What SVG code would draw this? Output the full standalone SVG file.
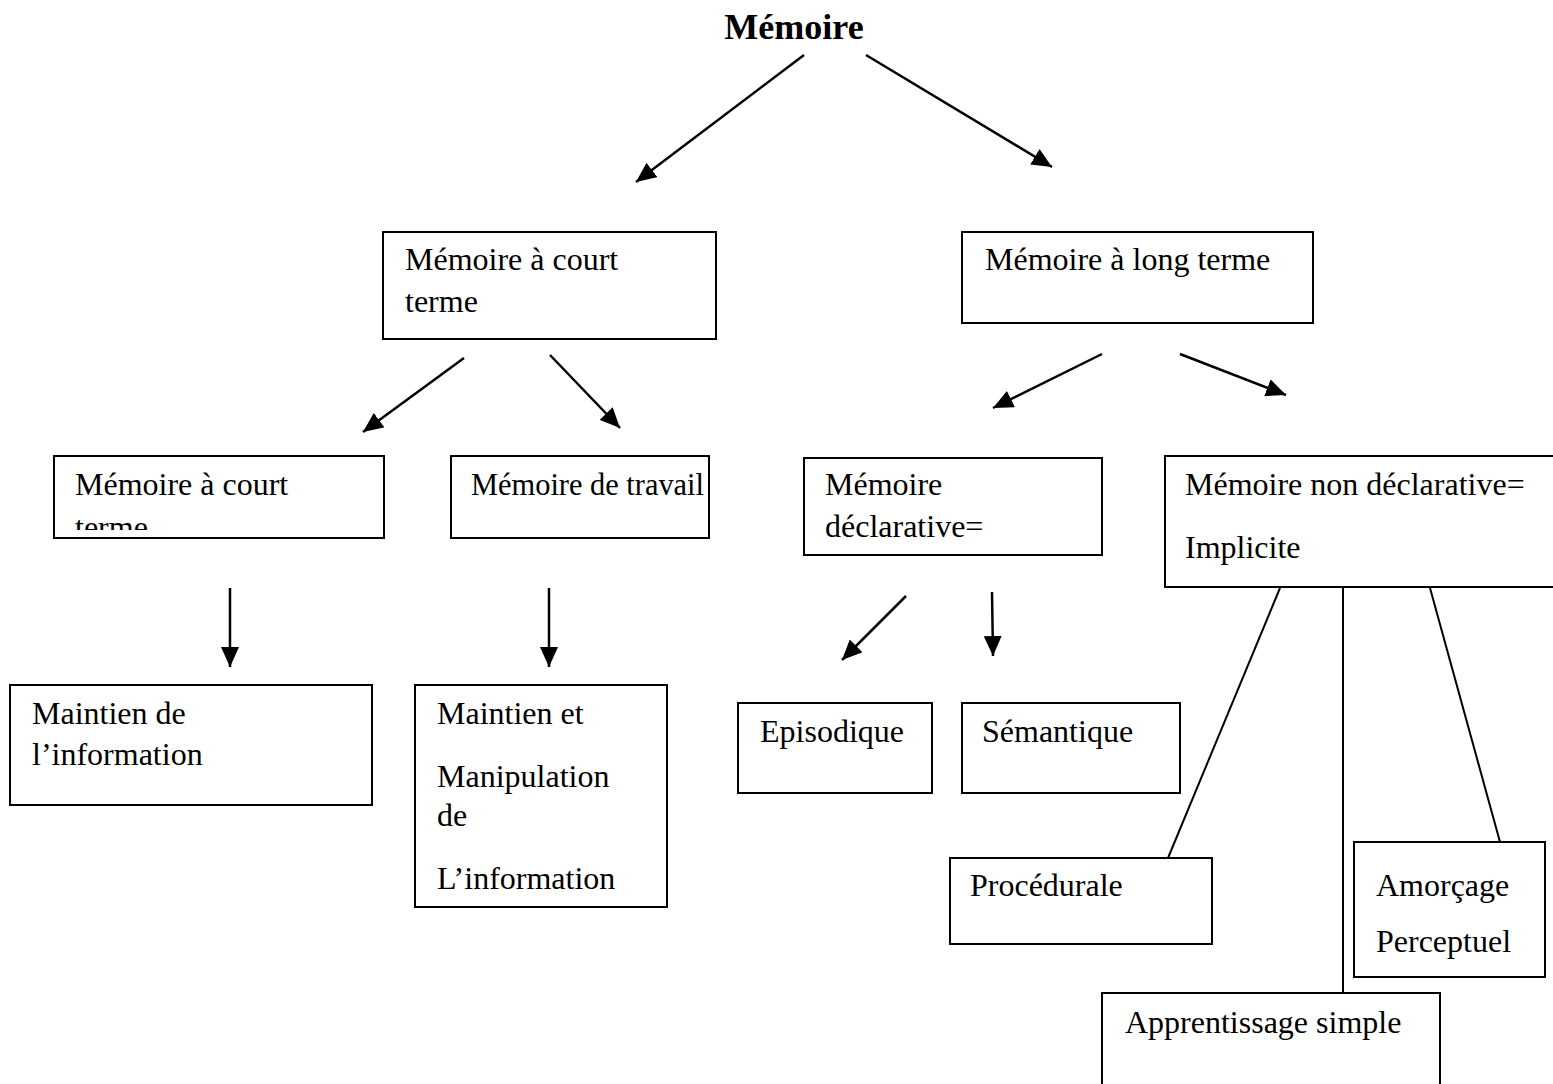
<svg xmlns="http://www.w3.org/2000/svg" width="1553" height="1084" viewBox="0 0 1553 1084">
<style>
.box{fill:#fff;stroke:#000;stroke-width:2}
.t{font-family:"Liberation Serif","Times New Roman",serif;font-size:32px;fill:#000}
.title{font-family:"Liberation Serif","Times New Roman",serif;font-size:36px;font-weight:bold;fill:#000}
.arr{stroke:#000;stroke-width:2.5;fill:none;marker-end:url(#ah)}
.ln{stroke:#000;stroke-width:2;fill:none}
</style>
<defs>
<marker id="ah" markerUnits="userSpaceOnUse" markerWidth="22" markerHeight="18" refX="20" refY="9" orient="auto">
<path d="M0,0 L20,9 L0,18 Z" fill="#000"/>
</marker>
<clipPath id="c3"><rect x="55" y="457" width="328" height="73"/></clipPath>
</defs>
<rect width="1553" height="1084" fill="#fff"/>
<g id="title"><text class="title" x="794" y="39" text-anchor="middle">Mémoire</text></g>
<g id="connectors">
<line class="arr" x1="804" y1="55" x2="636" y2="182"/>
<line class="arr" x1="866" y1="55" x2="1052" y2="167"/>
<line class="arr" x1="464" y1="358" x2="363" y2="432"/>
<line class="arr" x1="550" y1="355" x2="620" y2="428"/>
<line class="arr" x1="1102" y1="354" x2="993" y2="408"/>
<line class="arr" x1="1180" y1="354" x2="1286" y2="395"/>
<line class="arr" x1="230" y1="588" x2="230" y2="667"/>
<line class="arr" x1="549" y1="588" x2="549" y2="667"/>
<line class="arr" x1="906" y1="596" x2="842" y2="660"/>
<line class="arr" x1="992" y1="592" x2="993" y2="656"/>
<line class="ln" x1="1280" y1="588" x2="1168" y2="858"/>
<line class="ln" x1="1343" y1="588" x2="1343" y2="993"/>
<line class="ln" x1="1430" y1="588" x2="1500" y2="842"/>
</g>
<g id="n-mct">
<rect class="box" x="383" y="232" width="333" height="107"/>
<text class="t" x="405" y="270">Mémoire à court</text>
<text class="t" x="405" y="312">terme</text>
</g>
<g id="n-mlt">
<rect class="box" x="962" y="232" width="351" height="91"/>
<text class="t" x="985" y="270">Mémoire à long terme</text>
</g>
<g id="n-mct2">
<rect class="box" x="54" y="456" width="330" height="82"/>
<g clip-path="url(#c3)">
<text class="t" x="75" y="495">Mémoire à court</text>
<text class="t" x="75" y="538">terme</text>
</g>
</g>
<g id="n-mtravail">
<rect class="box" x="451" y="456" width="258" height="82"/>
<text class="t" x="471" y="495" textLength="233" lengthAdjust="spacingAndGlyphs">Mémoire de travail</text>
</g>
<g id="n-mdecl">
<rect class="box" x="804" y="458" width="298" height="97"/>
<text class="t" x="825" y="495">Mémoire</text>
<text class="t" x="825" y="537">déclarative=</text>
</g>
<g id="n-mnondecl">
<rect class="box" x="1165" y="456" width="400" height="131"/>
<text class="t" x="1185" y="495">Mémoire non déclarative=</text>
<text class="t" x="1185" y="558">Implicite</text>
</g>
<g id="n-maintien">
<rect class="box" x="10" y="685" width="362" height="120"/>
<text class="t" x="32" y="724">Maintien de</text>
<text class="t" x="32" y="765">l’information</text>
</g>
<g id="n-manip">
<rect class="box" x="415" y="685" width="252" height="222"/>
<text class="t" x="437" y="724">Maintien et</text>
<text class="t" x="437" y="787">Manipulation</text>
<text class="t" x="437" y="826">de</text>
<text class="t" x="437" y="889">L’information</text>
</g>
<g id="n-episodique">
<rect class="box" x="738" y="703" width="194" height="90"/>
<text class="t" x="760" y="742">Episodique</text>
</g>
<g id="n-semantique">
<rect class="box" x="962" y="703" width="218" height="90"/>
<text class="t" x="982" y="742">Sémantique</text>
</g>
<g id="n-procedurale">
<rect class="box" x="950" y="858" width="262" height="86"/>
<text class="t" x="970" y="896">Procédurale</text>
</g>
<g id="n-amorcage">
<rect class="box" x="1354" y="842" width="191" height="135"/>
<text class="t" x="1376" y="896">Amorçage</text>
<text class="t" x="1376" y="952">Perceptuel</text>
</g>
<g id="n-apprentissage">
<rect class="box" x="1102" y="993" width="338" height="100"/>
<text class="t" x="1125" y="1033">Apprentissage simple</text>
</g>
</svg>
